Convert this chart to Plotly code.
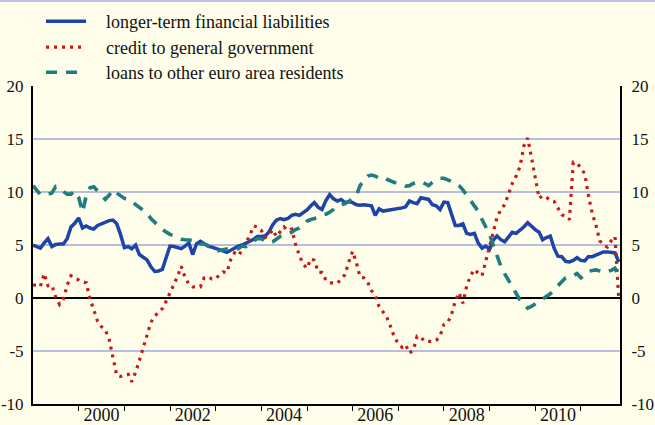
import pandas as pd
import plotly.graph_objects as go

# Monthly annual growth rates (%), January 1999 onwards
start_month = "1999-01-01"

longer_term_liabilities = [
    5.0, 4.8, 4.7, 5.2, 5.6, 4.85, 5.05, 5.1, 5.1, 5.6, 6.7, 7.05,
    7.55, 6.6, 6.8, 6.6, 6.5, 6.85, 7.0, 7.2, 7.3, 7.35, 7.0, 6.0,
    4.75, 4.85, 4.65, 5.0, 4.1, 3.85, 3.6, 2.95, 2.5, 2.55, 2.7, 3.8,
    4.9, 4.85, 4.75, 4.65, 4.9, 5.2, 4.1, 5.1, 5.35, 5.1, 4.9, 4.8,
    4.7, 4.6, 4.45, 4.3, 4.5, 4.7, 4.9, 5.0, 5.15, 5.35, 5.55, 5.8,
    5.8, 5.85, 6.2, 6.9, 7.35, 7.5, 7.4, 7.5, 7.8, 7.9, 7.8, 8.0,
    8.3, 8.7, 9.0, 8.55, 8.35, 9.2, 9.75, 9.35, 9.15, 9.3, 9.0, 9.1,
    9.0, 8.8, 8.75, 8.8, 8.75, 8.7, 7.8, 8.4, 8.2, 8.25, 8.3, 8.35,
    8.4, 8.5, 8.6, 9.15, 9.0, 8.9, 9.45, 9.4, 9.3, 8.8, 8.7, 8.35,
    9.05, 9.0, 7.9, 6.85, 6.85, 7.0, 6.1, 6.0, 6.1, 5.2, 4.7, 4.9,
    4.6, 5.5, 5.85, 5.5, 5.3, 5.8, 6.2, 6.1, 6.4, 6.7, 7.1, 6.75,
    6.45, 6.2, 5.5, 5.7, 5.85, 4.7, 3.95, 3.9, 3.45, 3.4, 3.55, 3.8,
    3.55, 3.5, 3.9, 3.9, 4.05, 4.2, 4.35, 4.35, 4.3, 4.25, 3.4,
]

credit_to_government = [
    1.2, 1.25, 1.1, 2.3, 1.15, 1.2, 0.1, -0.6, -0.1, 1.2, 2.1, 1.9,
    1.7, 1.5, 1.45, -0.1, -1.1, -2.2, -2.7, -3.0, -3.9, -5.5, -7.3, -7.4,
    -7.3, -7.2, -7.9, -7.0, -5.9, -4.75, -3.6, -2.3, -1.7, -1.35, -1.0, -0.3,
    0.5, 1.35, 2.0, 3.0, 1.95, 1.3, 1.05, 1.05, 1.05, 1.9, 2.0, 1.8,
    1.8, 2.2, 2.45, 2.4, 3.6, 4.25, 4.0, 4.5, 5.15, 5.9, 6.8, 6.7,
    6.4, 5.7, 5.9, 6.45, 5.8, 6.3, 6.7, 6.35, 6.5, 5.1, 4.0, 3.2,
    2.8, 3.7, 3.55, 2.45, 2.4, 1.7, 1.45, 1.4, 1.4, 1.8, 2.2, 3.4,
    4.4, 3.3, 2.0, 1.9, 1.5, 0.7, 0.2, -0.8, -1.3, -1.8, -2.7, -3.7,
    -4.3, -4.65, -4.4, -5.2, -4.9, -3.6, -3.7, -4.1, -4.1, -4.1, -4.0, -3.6,
    -2.5, -2.3, -1.6, -0.3, 0.5, -0.5, 1.1, 2.1, 2.7, 2.35, 2.1, 3.5,
    4.7, 6.35, 7.6, 8.35, 8.8, 9.8, 10.8, 11.5, 12.4, 14.3, 15.1, 13.3,
    11.3, 9.4, 9.65, 9.5, 9.2, 9.1, 8.5, 7.85, 7.7, 7.4, 12.8, 12.7,
    12.3, 11.7, 9.8, 8.0, 6.9, 5.4, 5.0, 4.8, 5.4, 5.8, -0.3,
]

loans_to_residents = [
    10.6, 10.2, 9.75, 9.8, 9.8, 9.9, 10.5, 10.3, 10.0, 9.8, 9.8, 10.1,
    9.5, 8.1, 9.6, 10.4, 10.5, 10.1, 9.7, 9.3, 9.7, 10.2, 9.9, 9.6,
    9.4, 9.35, 9.1, 8.75, 8.45, 8.2, 8.0, 7.5, 7.1, 6.8, 6.45, 6.2,
    6.0, 5.85, 5.7, 5.55, 5.5, 5.45, 5.4, 5.4, 5.1, 5.1, 4.95, 4.6,
    4.4, 4.5, 4.55, 4.65, 4.7, 4.7, 4.65, 4.9, 4.85, 5.1, 5.4, 5.6,
    5.6, 5.4, 5.2, 5.3, 5.55, 5.8, 5.85, 6.0, 6.2, 6.45, 6.6, 6.9,
    7.25, 7.4, 7.5, 7.6, 7.8, 7.9, 8.1, 8.4, 8.6, 8.8, 8.9, 9.1,
    9.4, 9.7, 10.6, 11.1, 11.5, 11.6, 11.5, 11.3, 11.4, 11.2, 11.05, 10.9,
    10.85, 10.7, 10.55, 10.6, 10.8, 10.9, 11.0, 10.8, 10.6, 10.9, 11.1, 11.3,
    11.3, 11.1, 11.0, 10.85, 10.6, 10.2, 9.7, 9.1, 8.7, 8.2, 7.4, 6.7,
    6.0, 4.9, 4.0, 3.0, 2.3, 1.7, 1.1, 0.4, -0.2, -0.6, -0.95, -0.8,
    -0.55, -0.3, -0.15, 0.1, 0.4, 0.8, 1.2, 1.5, 1.9, 2.0, 2.1, 2.3,
    1.9, 2.2, 2.5, 2.6, 2.65, 2.55, 2.4, 2.5, 2.6, 2.8, 2.0,
]

series_names = [
    "longer-term financial liabilities",
    "credit to general government",
    "loans to other euro area residents",
]

year_ticks = list(range(2000, 2012))
year_labels = ["2000", "2002", "2004", "2006", "2008", "2010"]
y_ticks = [-10, -5, 0, 5, 10, 15, 20]
y_labels = ["-10", "-5", "0", "5", "10", "15", "20"]

months = pd.date_range(start_month, periods=len(longer_term_liabilities), freq="MS")

W, H = 655, 425
BG = "#fffeea"
GRID = "#b9bee0"
FONT = "Liberation Serif"
TEXT = "#111111"
x_range = ["1999-01-01", "2011-11-10"]

# gap between the legend key and its label
KEY_GAP = "\u2002\u2005\u200a"

fig = go.Figure()
styles = [
    dict(color="#1d44a6", width=3.5, dash="solid"),
    dict(color="#c81818", width=3.2, dash="3px,5px"),
    dict(color="#1f7d7f", width=3.6, dash="11px,9px"),
]
legend_ids = ["legend", "legend2", "legend3"]
for name, values, line, lg in zip(
    series_names,
    [longer_term_liabilities, credit_to_government, loans_to_residents],
    styles,
    legend_ids,
):
    fig.add_trace(go.Scatter(x=months, y=values, mode="lines",
                             name=KEY_GAP + name, line=line, legend=lg))

# Invisible helper trace that carries the mid-year labels axis
fig.add_trace(go.Scatter(x=[months[0]], y=[None], xaxis="x2", yaxis="y2",
                         showlegend=False, hoverinfo="skip"))


def legend_box(top_px):
    return dict(
        x=41 / W, y=1 - top_px / H, xref="container", yref="container",
        xanchor="left", yanchor="top",
        bgcolor="rgba(0,0,0,0)", borderwidth=0,
        font=dict(family=FONT, size=18, color=TEXT),
        itemwidth=40,
    )


fig.update_layout(
    width=W, height=H,
    margin=dict(l=33, r=35, t=86, b=21, autoexpand=False),
    paper_bgcolor=BG, plot_bgcolor=BG,
    font=dict(family=FONT, size=18, color=TEXT),
    showlegend=True,
    legend=legend_box(3),
    legend2=legend_box(29),
    legend3=legend_box(54),
    xaxis=dict(
        type="date", range=x_range,
        tickvals=[f"{y}-01-01" for y in year_ticks],
        showticklabels=False, ticks="outside", ticklen=5, tickwidth=1,
        tickcolor="#000000", showgrid=False, zeroline=False,
        showline=True, linecolor="#000000", linewidth=2,
    ),
    xaxis2=dict(
        type="date", range=x_range, overlaying="x", side="bottom",
        anchor="free", position=2.5 / 318,
        tickvals=[f"{y}-07-01" for y in year_labels], ticktext=year_labels,
        ticks="", showgrid=False, zeroline=False, showline=False,
        ticklabelstandoff=0, tickangle=0,
        tickfont=dict(family=FONT, size=18, color=TEXT),
    ),
    yaxis=dict(
        range=[-10, 20], tickvals=y_ticks, ticktext=y_labels,
        ticks="", showgrid=True, gridcolor=GRID, gridwidth=1.5,
        zeroline=True, zerolinecolor="#000000", zerolinewidth=1.8,
        showline=True, linecolor="#000000", linewidth=2,
        ticklabelstandoff=4,
        tickfont=dict(family=FONT, size=17, color=TEXT),
    ),
    yaxis2=dict(
        range=[-10, 20], tickvals=y_ticks, ticktext=y_labels,
        overlaying="y", side="right", anchor="x",
        ticks="", showgrid=False, zeroline=False,
        showline=True, linecolor="#000000", linewidth=2,
        ticklabelstandoff=6,
        tickfont=dict(family=FONT, size=17, color=TEXT),
    ),
)

# Thin frame rule along the top edge of the figure
fig.add_shape(type="line", xref="paper", yref="paper",
              x0=-33 / 587, x1=1 + 35 / 587, y0=1 + 85 / 318, y1=1 + 85 / 318,
              line=dict(color="#bcc0e4", width=2))

fig.write_html("out.html")
